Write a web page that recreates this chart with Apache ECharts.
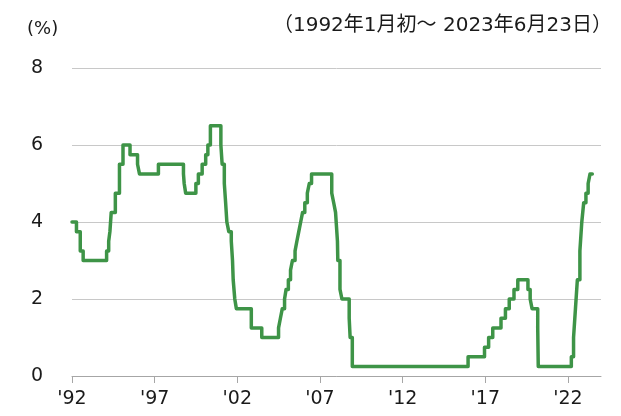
<!DOCTYPE html>
<html>
<head>
<meta charset="utf-8">
<script src="https://cdn.jsdelivr.net/npm/echarts@6/dist/echarts.min.js"></script>
<style>
  html, body { margin: 0; padding: 0; background: #fff; }
  #chart { width: 621px; height: 416px; }
</style>
</head>
<body>
<div id="chart"></div>
<script>
// 政策金利（上限）の変更日と水準
var changeDates = [
  '1992-01-01', '1992-04-09', '1992-07-02', '1992-09-04',
  '1994-02-04', '1994-03-22', '1994-04-18', '1994-05-17', '1994-08-16', '1994-11-15',
  '1995-02-01', '1995-07-06', '1995-12-19', '1996-01-31', '1997-03-25',
  '1998-09-29', '1998-10-15', '1998-11-17', '1999-06-30', '1999-08-24', '1999-11-16',
  '2000-02-02', '2000-03-21', '2000-05-16',
  '2001-01-03', '2001-01-31', '2001-03-20', '2001-04-18', '2001-05-15', '2001-06-27',
  '2001-08-21', '2001-09-17', '2001-10-02', '2001-11-06', '2001-12-11',
  '2002-11-06', '2003-06-25',
  '2004-06-30', '2004-08-10', '2004-09-21', '2004-11-10', '2004-12-14',
  '2005-02-02', '2005-03-22', '2005-05-03', '2005-06-30', '2005-08-09', '2005-09-20',
  '2005-11-01', '2005-12-13', '2006-01-31', '2006-03-28', '2006-05-10', '2006-06-29',
  '2007-09-18', '2007-10-31', '2007-12-11',
  '2008-01-22', '2008-01-30', '2008-03-18', '2008-04-30', '2008-10-08', '2008-10-29', '2008-12-16',
  '2015-12-17', '2016-12-15', '2017-03-16', '2017-06-15', '2017-12-14',
  '2018-03-22', '2018-06-14', '2018-09-27', '2018-12-20',
  '2019-08-01', '2019-09-19', '2019-10-31', '2020-03-04', '2020-03-16',
  '2022-03-17', '2022-05-05', '2022-06-16', '2022-07-28', '2022-09-22', '2022-11-03', '2022-12-15',
  '2023-02-02', '2023-03-23', '2023-05-04', '2023-06-23'
]
var rates = [
  4.00, 3.75, 3.25, 3.00,
  3.25, 3.50, 3.75, 4.25, 4.75, 5.50,
  6.00, 5.75, 5.50, 5.25, 5.50,
  5.25, 5.00, 4.75, 5.00, 5.25, 5.50,
  5.75, 6.00, 6.50,
  6.00, 5.50, 5.00, 4.50, 4.00, 3.75,
  3.50, 3.00, 2.50, 2.00, 1.75,
  1.25, 1.00,
  1.25, 1.50, 1.75, 2.00, 2.25,
  2.50, 2.75, 3.00, 3.25, 3.50, 3.75,
  4.00, 4.25, 4.50, 4.75, 5.00, 5.25,
  4.75, 4.50, 4.25,
  3.50, 3.00, 2.25, 2.00, 1.50, 1.00, 0.25,
  0.50, 0.75, 1.00, 1.25, 1.50,
  1.75, 2.00, 2.25, 2.50,
  2.25, 2.00, 1.75, 1.25, 0.25,
  0.50, 1.00, 1.75, 2.50, 3.25, 4.00, 4.50,
  4.75, 5.00, 5.25, 5.25
]
var tickYears = [1992, 1997, 2002, 2007, 2012, 2017, 2022]
var yTicks = [0, 2, 4, 6, 8]
var titleText = '（1992年1月初～ 2023年6月23日）'
var unitText = '(%)'

var chart = echarts.init(document.getElementById('chart'))

// 日付 → 年（小数）
function toYear(s) {
  let p = s.split('-').map(Number)
  let start = Date.UTC(p[0], 0, 1)
  let end = Date.UTC(p[0] + 1, 0, 1)
  return p[0] + (Date.UTC(p[0], p[1] - 1, p[2]) - start) / (end - start)
}

var seriesData = changeDates.map((d, i) => [toYear(d), rates[i]])
var font = 'DejaVu Sans, Noto Sans CJK JP, sans-serif'

var option = {
  animation: false,
  textStyle: { fontFamily: font },
  title: [
    {
      text: titleText,
      right: 4,
      top: 11,
      textStyle: { fontFamily: font, fontSize: 20, fontWeight: 'normal', color: '#1a1a1a' }
    },
    {
      text: unitText,
      left: 22,
      top: 15,
      textStyle: { fontFamily: font, fontSize: 18, fontWeight: 'normal', color: '#1a1a1a' }
    }
  ],
  grid: { left: 72, right: 20, top: 68, bottom: 40 },
  xAxis: {
    type: 'value',
    min: 1992,
    max: 2024,
    axisLine: { lineStyle: { color: '#a6a6a6', width: 1 } },
    axisTick: { show: true, length: 7, customValues: tickYears, lineStyle: { color: '#a6a6a6' } },
    axisLabel: {
      customValues: tickYears,
      margin: 14,
      fontSize: 19,
      color: '#1a1a1a',
      fontFamily: font,
      formatter: v => "'" + String(v).slice(2)
    },
    splitLine: { show: false }
  },
  yAxis: {
    type: 'value',
    min: yTicks[0],
    max: yTicks[yTicks.length - 1],
    interval: 2,
    axisLine: { show: false },
    axisTick: { show: false },
    axisLabel: { margin: 29, fontSize: 19, color: '#1a1a1a', fontFamily: font },
    splitLine: { lineStyle: { color: '#c8c8c8', width: 1 } }
  },
  series: [
    {
      type: 'line',
      step: 'end',
      data: seriesData,
      showSymbol: false,
      lineStyle: { color: '#3e9447', width: 3.5, join: 'round', cap: 'round' }
    }
  ]
}
chart.setOption(option)
</script>
</body>
</html>
